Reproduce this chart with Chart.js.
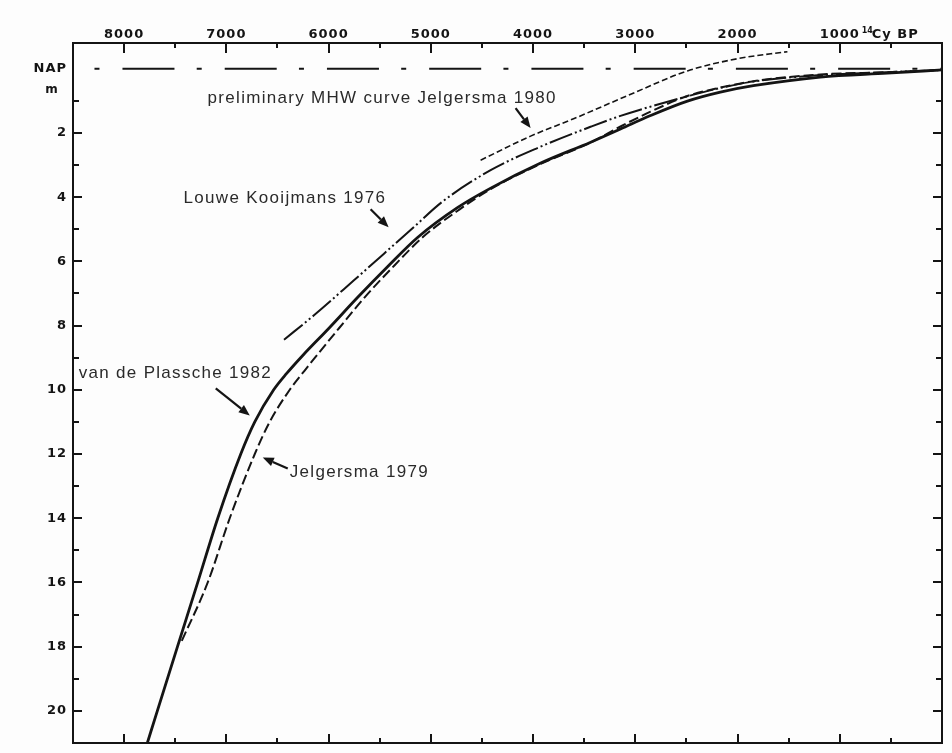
<!DOCTYPE html>
<html>
<head>
<meta charset="utf-8">
<script src="https://cdn.jsdelivr.net/npm/chart.js@4.4.1/dist/chart.umd.min.js"></script>
<style>
  html, body { margin: 0; padding: 0; background: #fdfdfd; }
  #wrap { width: 952px; height: 753px; }
</style>
</head>
<body>
<div id="wrap"><canvas id="c" width="952" height="753"></canvas></div>
<script>
// Holocene relative sea-level curves, western Netherlands.
// x: radiocarbon age (14C years BP), y: depth below NAP in metres.

const AGE_TICKS = [8000, 7000, 6000, 5000, 4000, 3000, 2000, 1000];
const DEPTH_TICKS = [0, 2, 4, 6, 8, 10, 12, 14, 16, 18, 20];

// van de Plassche 1982 (solid)
const plasscheAge   = [7773, 7675, 7478, 7280, 7084, 6859, 6722, 6537, 6410, 6253, 5999, 5715, 5421, 5127, 4736, 4414, 3925, 3436, 3145, 2851, 2490, 2168, 1845, 1190, 535, 0];
const plasscheDepth = [21.0, 20.0, 18.0, 16.0, 14.0, 12.0, 11.0, 10.0, 9.49, 8.93, 8.09, 7.12, 6.16, 5.25, 4.32, 3.72, 2.94, 2.29, 1.88, 1.46, 1.01, 0.73, 0.53, 0.26, 0.14, 0.04];

// Jelgersma 1979 (long dashes)
const jelg79Age   = [7436, 7182, 6967, 6722, 6576, 6380, 6234, 5892, 5647, 5354, 5080, 4718, 4415, 3928, 3430, 3145, 2851, 2490, 2168, 1845, 1190, 535, 0];
const jelg79Depth = [17.82, 16.0, 14.0, 12.0, 11.0, 10.0, 9.4, 8.06, 7.12, 6.12, 5.25, 4.38, 3.75, 2.97, 2.29, 1.8, 1.34, 0.85, 0.59, 0.39, 0.18, 0.11, 0.04];

// Louwe Kooijmans 1976 (dash-dot-dot)
const kooijAge   = [6436, 6143, 5752, 5458, 5165, 4894, 4415, 3927, 3438, 3145, 2490, 2168, 1845, 1190, 535, 0];
const kooijDepth = [8.44, 7.68, 6.59, 5.76, 4.93, 4.16, 3.16, 2.43, 1.81, 1.47, 0.86, 0.6, 0.4, 0.2, 0.11, 0.04];

// preliminary MHW curve Jelgersma 1980 (short dashes)
const mhwAge   = [4513, 4024, 3604, 3076, 2490, 2001, 1512];
const mhwDepth = [2.85, 2.1, 1.56, 0.84, 0.07, -0.31, -0.53];

// NAP reference level
const napAge   = [8290, 0];
const napDepth = [0, 0];

const INK = '#141414';
const TEXT = '#2a2a2a';
const TICK_FONT = { family: 'DejaVu Sans', weight: 'bold', size: 13 };

const pts = (xs, ys) => xs.map((v, i) => ({ x: v, y: ys[i] }));

// Curve labels: arrow tip in data units, tail and text offsets in pixels
const NOTES = [
  { text: 'preliminary MHW curve Jelgersma 1980', tip: [4024, 1.85], tail: [-15, -20], label: [-323, -30] },
  { text: 'Louwe Kooijmans 1976', tip: [5413, 4.94], tail: [-18, -18], label: [-205, -29] },
  { text: 'van de Plassche 1982', tip: [6771, 10.80], tail: [-34, -27], label: [-171, -42] },
  { text: 'Jelgersma 1979', tip: [6644, 12.11], tail: [25, 11], label: [27, 15] }
];

function arrow(ctx, x0, y0, x1, y1) {
  const ang = Math.atan2(y1 - y0, x1 - x0);
  const head = 11, half = 4.5;
  const bx = x1 - head * Math.cos(ang), by = y1 - head * Math.sin(ang);
  ctx.beginPath();
  ctx.moveTo(x0, y0);
  ctx.lineTo(bx, by);
  ctx.lineWidth = 2.2;
  ctx.stroke();
  ctx.beginPath();
  ctx.moveTo(x1, y1);
  ctx.lineTo(bx + half * Math.sin(ang), by - half * Math.cos(ang));
  ctx.lineTo(bx - half * Math.sin(ang), by + half * Math.cos(ang));
  ctx.closePath();
  ctx.fill();
}

const decor = {
  id: 'decor',
  beforeDraw(chart) {
    const ctx = chart.ctx;
    ctx.save();
    ctx.fillStyle = '#fdfdfd';
    ctx.fillRect(0, 0, chart.width, chart.height);
    ctx.restore();
    ctx.letterSpacing = '1px';
  },
  afterDatasetsDraw(chart) {
    const { ctx, chartArea: a, scales: { x, y } } = chart;
    ctx.save();
    ctx.strokeStyle = INK;
    ctx.fillStyle = INK;
    ctx.lineWidth = 2;
    ctx.lineCap = 'butt';
    // right and bottom edges of the frame
    ctx.beginPath();
    ctx.moveTo(a.right, a.top - 1);
    ctx.lineTo(a.right, a.bottom + 1);
    ctx.moveTo(a.left - 1, a.bottom);
    ctx.lineTo(a.right + 1, a.bottom);
    ctx.stroke();
    // inward tick marks, every 500 years
    ctx.beginPath();
    for (let v = 500; v < x.max; v += 500) {
      const px = Math.round(x.getPixelForValue(v));
      const major = v % 1000 === 0;
      ctx.moveTo(px, a.top);
      ctx.lineTo(px, a.top + (major ? 10 : 5));
      ctx.moveTo(px, a.bottom);
      ctx.lineTo(px, a.bottom - (major ? 9 : 5));
    }
    // inward tick marks, every metre
    for (let v = 1; v <= 20; v++) {
      const py = Math.round(y.getPixelForValue(v));
      const major = v % 2 === 0;
      ctx.moveTo(a.left, py);
      ctx.lineTo(a.left + (major ? 9 : 6), py);
      ctx.moveTo(a.right, py);
      ctx.lineTo(a.right - (major ? 9 : 6), py);
    }
    ctx.stroke();

    // curve labels with arrows
    ctx.letterSpacing = '1.3px';
    ctx.font = '17px "Liberation Sans", Arial, sans-serif';
    ctx.textBaseline = 'middle';
    ctx.textAlign = 'left';
    NOTES.forEach(n => {
      const tx = x.getPixelForValue(n.tip[0]);
      const ty = y.getPixelForValue(n.tip[1]);
      ctx.fillStyle = INK;
      ctx.strokeStyle = INK;
      arrow(ctx, tx + n.tail[0], ty + n.tail[1], tx, ty);
      ctx.fillStyle = TEXT;
      ctx.fillText(n.text, tx + n.label[0], ty + n.label[1]);
    });

    // unit labels
    ctx.fillStyle = INK;
    ctx.letterSpacing = '1px';
    ctx.font = 'bold 12px "DejaVu Sans", sans-serif';
    ctx.textAlign = 'center';
    ctx.fillText('m', a.left - 21, y.getPixelForValue(0) + 21);
    const x1000 = x.getPixelForValue(1000);
    const ly = a.top - 8;
    ctx.textAlign = 'left';
    ctx.font = 'bold 8px "DejaVu Sans", sans-serif';
    ctx.letterSpacing = '0px';
    ctx.fillText('14', x1000 + 22, ly - 4);
    ctx.font = 'bold 13px "DejaVu Sans", sans-serif';
    ctx.letterSpacing = '1px';
    ctx.fillText('Cy BP', x1000 + 32, ly);
    ctx.restore();
  }
};

new Chart(document.getElementById('c'), {
  type: 'line',
  data: {
    datasets: [
      { data: pts(napAge, napDepth), borderColor: INK, borderWidth: 2, borderDash: [5, 23, 52, 22.24] },
      { data: pts(mhwAge, mhwDepth), borderColor: INK, borderWidth: 1.6, borderDash: [6, 3] },
      { data: pts(kooijAge, kooijDepth), borderColor: INK, borderWidth: 2, borderDash: [24, 3, 2, 3, 2, 3] },
      { data: pts(jelg79Age, jelg79Depth), borderColor: INK, borderWidth: 2, borderDash: [10, 4] },
      { data: pts(plasscheAge, plasscheDepth), borderColor: INK, borderWidth: 2.8 }
    ]
  },
  options: {
    responsive: false,
    animation: false,
    devicePixelRatio: 1,
    events: [],
    layout: { padding: { left: 0, top: 0, right: 10, bottom: 10 } },
    elements: {
      point: { radius: 0 },
      line: { cubicInterpolationMode: 'monotone', fill: false, borderCapStyle: 'butt' }
    },
    plugins: { legend: { display: false }, tooltip: { enabled: false } },
    scales: {
      x: {
        type: 'linear',
        position: 'top',
        min: 0,
        max: 8500,
        reverse: true,
        grid: { display: false, drawTicks: false },
        border: { display: true, color: INK, width: 2 },
        ticks: {
          color: INK, font: TICK_FONT, padding: 1, maxRotation: 0, autoSkip: false,
          callback: v => String(v)
        },
        afterBuildTicks: s => { s.ticks = AGE_TICKS.map(v => ({ value: v })); },
        afterFit: s => { s.height = 43; s.paddingLeft = 0; s.paddingRight = 0; }
      },
      y: {
        type: 'linear',
        position: 'left',
        min: -0.8,
        max: 21,
        reverse: true,
        grid: { display: false, drawTicks: false },
        border: { display: true, color: INK, width: 2 },
        ticks: {
          color: INK, font: TICK_FONT, padding: 6, autoSkip: false,
          callback: v => (v === 0 ? 'NAP' : String(v))
        },
        afterBuildTicks: s => { s.ticks = DEPTH_TICKS.map(v => ({ value: v })); },
        afterFit: s => { s.width = 73; s.paddingTop = 0; s.paddingBottom = 0; }
      }
    }
  },
  plugins: [decor]
});
</script>
</body>
</html>
